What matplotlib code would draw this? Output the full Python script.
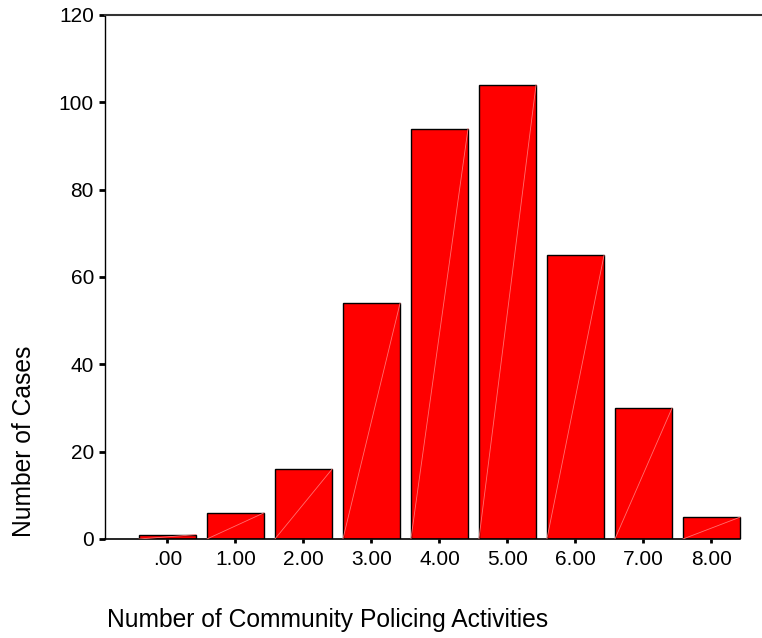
import matplotlib
matplotlib.use('Agg')
import matplotlib.pyplot as plt

# activities count (0..8) and number of cases
activities = [0, 1, 2, 3, 4, 5, 6, 7, 8]
cases = [1, 6, 16, 54, 94, 104, 65, 30, 5]
tick_labels = ['.00', '1.00', '2.00', '3.00', '4.00', '5.00', '6.00', '7.00', '8.00']
y_ticks = [0, 20, 40, 60, 80, 100, 120]

plt.rcParams['font.family'] = ['Liberation Sans', 'DejaVu Sans']

fig = plt.figure(figsize=(7.62, 6.38), dpi=100)
ax = fig.add_axes([105 / 762, 1 - 539 / 638, 1 - 105 / 762, (539 - 15) / 638])

width = 0.84
bars = ax.bar(activities, cases, width=width, color='#ff0000',
              edgecolor='black', linewidth=1.0, zorder=2)

# faint diagonal streak inside each bar (rendering artefact of the original)
for x, h in zip(activities, cases):
    ax.plot([x - width / 2, x + width / 2], [0, h], color='#ff7070',
            linewidth=0.6, zorder=3)

ax.set_xlim(-0.919, 8.743)
ax.set_ylim(0, 120)
ax.set_yticks(y_ticks)
ax.set_yticklabels([str(v) for v in y_ticks])
ax.set_xticks(activities)
ax.set_xticklabels(tick_labels)

ax.spines['right'].set_visible(False)
ax.spines['top'].set_color('#333333')
ax.spines['top'].set_linewidth(1.5)
ax.spines['left'].set_linewidth(1.0)
ax.spines['bottom'].set_linewidth(1.2)
ax.spines['bottom'].set_bounds(-0.919, 8 + width / 2)

ax.tick_params(axis='y', length=4, width=2, pad=4, labelsize=15)
ax.tick_params(axis='x', length=3, width=2, pad=5, labelsize=15)

fig.text(24 / 762, 1 - 441.5 / 638, 'Number of Cases', rotation=90,
         ha='center', va='center', fontsize=17.7)
fig.text(107 / 762, 1 - 620 / 638, 'Number of Community Policing Activities',
         ha='left', va='center', fontsize=17.7)

fig.savefig('out.png', dpi=100)
